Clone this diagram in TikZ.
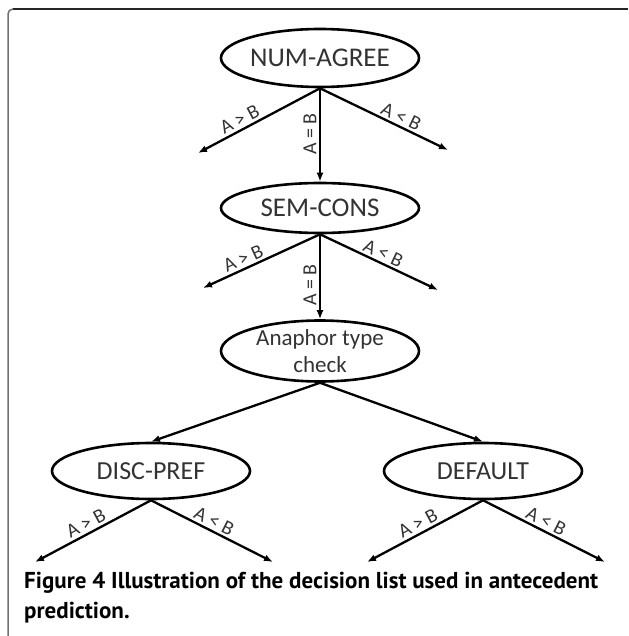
\documentclass[tikz,border=0pt]{standalone}
\usepackage{fontspec}
\setmainfont{Carlito}
\newfontfamily\capfont{PT Sans}
\usetikzlibrary{shapes.geometric,arrows.meta}
\begin{document}
\begin{tikzpicture}[x=1pt,y=-1pt,
  dnode/.style={ellipse,draw,line width=2.6pt,minimum width=198pt,inner sep=0pt,font=\fontsize{27}{28}\selectfont,text=black!80,align=center},
  conn/.style={line width=2.3pt,-{Latex[length=9pt,width=7pt]}},
  lbl/.style={font=\fontsize{20}{22}\selectfont,text=black!80,inner sep=2.5pt},
  capstyle/.style={anchor=base west,inner sep=0pt,font=\capfont\bfseries\fontsize{23}{26}\selectfont},
  frame/.style={line width=1.5pt}]
\useasboundingbox (0,0) rectangle (628,636);
% frame
\draw[frame,black!85] (13,9) -- (628,9);
\draw[frame,black!55] (8,636) -- (8,14) arc[start angle=180,end angle=90,radius=5pt];
% nodes
\node[dnode,minimum height=58pt] (num) at (320,58) {NUM-AGREE};
\node[dnode,minimum height=50pt] (sem) at (320,208) {SEM-CONS};
\node[dnode,minimum height=56pt,font=\fontsize{23}{27}\selectfont] (ana) at (320,351) {Anaphor type\\check};
\node[dnode,minimum height=56pt,font=\fontsize{26}{28}\selectfont] (disc) at (151,471) {DISC-PREF};
\node[dnode,minimum height=56pt,font=\fontsize{26}{28}\selectfont] (def) at (483,471) {DEFAULT};
% free ends
\coordinate (n1L) at (198,153);
\coordinate (n1R) at (448,150);
\coordinate (s1L) at (203,288);
\coordinate (s1R) at (438,290);
\coordinate (dL) at (35,562);
\coordinate (dR) at (273,562);
\coordinate (fL) at (367,562);
\coordinate (fR) at (605,562);
% connectors
\draw[conn] (num.south) -- node[lbl,sloped,above,pos=0.62] {A > B} (n1L);
\draw[conn] (num.south) -- node[lbl,sloped,above,pos=0.6] {A < B} (n1R);
\draw[conn] (num.south) -- node[lbl,rotate=90,anchor=south,pos=0.49] {A = B} (sem.north);
\draw[conn] (sem.south) -- node[lbl,sloped,above,pos=0.62] {A > B} (s1L);
\draw[conn] (sem.south) -- node[lbl,sloped,above,pos=0.5] {A < B} (s1R);
\draw[conn] (sem.south) -- node[lbl,rotate=90,anchor=south,pos=0.6] {A = B} (ana.north);
\draw[conn] (ana.south) -- (disc.north);
\draw[conn] (ana.south) -- (def.north);
\draw[conn] (disc.south) -- node[lbl,sloped,above,pos=0.52] {A > B} (dL);
\draw[conn] (disc.south) -- node[lbl,sloped,above,pos=0.48] {A < B} (dR);
\draw[conn] (def.south) -- node[lbl,sloped,above,pos=0.52] {A > B} (fL);
\draw[conn] (def.south) -- node[lbl,sloped,above,pos=0.48] {A < B} (fR);
% caption
\node[capstyle] (cap1) at (24,588) {Figure 4 Illustration of the decision list used in antecedent};
\node[capstyle] (cap2) at (24,618) {prediction.};
\end{tikzpicture}
\end{document}
